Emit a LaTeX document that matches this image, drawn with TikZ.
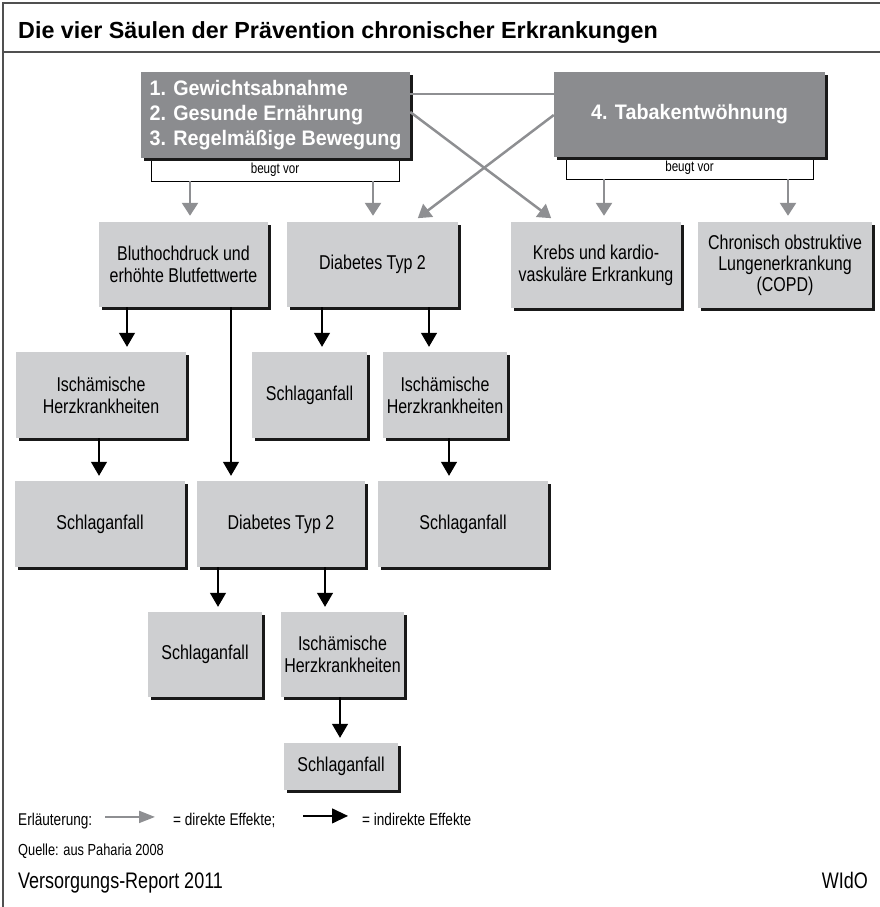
\documentclass[tikz,border=0pt]{standalone}
\usepackage{fontspec}
\setmainfont{Liberation Sans}[FakeStretch=0.8]
\newfontfamily\boxfont{Liberation Sans}[FakeStretch=0.94]
\newfontfamily\titlefont{Liberation Sans}
\usetikzlibrary{arrows.meta,shadows}
\definecolor{hell}{HTML}{CECFD1}
\definecolor{dunkel}{HTML}{8B8C8F}
\definecolor{pfeilgrau}{HTML}{8E8F92}
\definecolor{rahmen}{HTML}{505050}

\begin{document}
\begin{tikzpicture}[x=1pt,y=-1pt,
		krank/.style={fill=hell,inner sep=2pt,align=center,font=\fontsize{20}{22}\selectfont,
			general shadow={fill=black!90,shadow xshift=2.5pt,shadow yshift=-2.5pt}},
		saeule/.style={fill=dunkel,text=white,inner sep=0pt,
			general shadow={fill=black!90,shadow xshift=2.5pt,shadow yshift=-2.5pt}},
		vorbox/.style={draw,line width=0.8pt,fill=white,inner sep=0pt,font=\fontsize{14.5}{16}\selectfont},
		txt/.style={inner sep=0pt,font=\fontsize{17}{19}\selectfont},
		direkt/.style={pfeilgrau,line width=2.5pt,shorten >=6pt,-{Triangle[length=13pt,width=16pt]}},
		indirekt/.style={black,line width=1.2pt,shorten >=5pt,-{Triangle[length=14pt,width=16pt]}}]
		\useasboundingbox (0,0) rectangle (880,907);
		\draw[rahmen,line width=1.6pt] (880,3) -- (3,3) -- (3,907);
		\draw[rahmen,line width=1.6pt] (3,52) -- (880,52);
		\node[anchor=base west,inner sep=0pt,font=\titlefont\bfseries\fontsize{23.3}{27}\selectfont] (titel) at (18,38) {Die vier Säulen der Prävention chronischer Erkrankungen};

		\node[vorbox,minimum width=248pt,minimum height=23pt] (bv1) at (275,169.5) {beugt vor};
		\node[vorbox,minimum width=247pt,minimum height=22pt] (bv2) at (689.5,168) {beugt vor};
		\node[saeule,align=left,minimum width=269pt,minimum height=86pt,font=\boxfont\bfseries\fontsize{21}{25}\selectfont] (gew) at (275.5,115) {1. Gewichtsabnahme\\2. Gesunde Ernährung\\3. Regelmäßige Bewegung};
		\node[saeule,minimum width=271pt,minimum height=85pt,font=\boxfont\bfseries\fontsize{21}{25}\selectfont] (tabak) at (689.5,114.5) {4. Tabakentwöhnung};

		\node[krank,minimum width=169pt,minimum height=85pt] (bhd) at (183.5,264.5) {Bluthochdruck und\\erhöhte Blutfettwerte};
		\node[krank,minimum width=171pt,minimum height=85pt] (dia1) at (372.5,264.5) {Diabetes Typ 2};
		\node[krank,minimum width=170pt,minimum height=86pt] (krebs) at (596,265) {Krebs und kardio-\\vaskuläre Erkrankung};
		\node[krank,minimum width=174pt,minimum height=86pt,font=\fontsize{20}{21}\selectfont] (copd) at (785,265) {Chronisch obstruktive\\Lungenerkrankung\\(COPD)};

		\node[krank,minimum width=170pt,minimum height=86pt] (isch1) at (101,395) {Ischämische\\Herzkrankheiten};
		\node[krank,minimum width=115pt,minimum height=86pt] (schlag1) at (309.5,395) {Schlaganfall};
		\node[krank,minimum width=124pt,minimum height=86pt] (isch2) at (445,395) {Ischämische\\Herzkrankheiten};

		\node[krank,minimum width=170pt,minimum height=86pt] (schlag2) at (100,524) {Schlaganfall};
		\node[krank,minimum width=168pt,minimum height=86pt] (dia2) at (281,524) {Diabetes Typ 2};
		\node[krank,minimum width=170pt,minimum height=86pt] (schlag3) at (463,524) {Schlaganfall};

		\node[krank,minimum width=114pt,minimum height=85pt] (schlag4) at (205,654.5) {Schlaganfall};
		\node[krank,minimum width=123pt,minimum height=85pt] (isch3) at (342.5,654.5) {Ischämische\\Herzkrankheiten};
		\node[krank,minimum width=114pt,minimum height=47pt] (schlag5) at (341,766.5) {Schlaganfall};

		\draw[pfeilgrau,line width=2.5pt] (gew.east |- 0,94) -- (tabak.west |- 0,94);
		\draw[direkt] (gew.east |- 0,112) -- (krebs.north -| 556,0);
		\draw[direkt] (tabak.west |- 0,115) -- (dia1.north -| 413,0);
		\draw[direkt] (bv1.south -| 190,0) -- (bhd.north -| 190,0);
		\draw[direkt] (bv1.south -| 373,0) -- (dia1.north -| 373,0);
		\draw[direkt] (bv2.south -| 604,0) -- (krebs.north -| 604,0);
		\draw[direkt] (bv2.south -| 788,0) -- (copd.north -| 788,0);

		\draw[indirekt] (bhd.south -| 127,0) -- (isch1.north -| 127,0);
		\draw[indirekt] (bhd.south -| 231,0) -- (dia2.north -| 231,0);
		\draw[indirekt] (dia1.south -| 322,0) -- (schlag1.north -| 322,0);
		\draw[indirekt] (dia1.south -| 429,0) -- (isch2.north -| 429,0);
		\draw[indirekt] (isch1.south -| 99,0) -- (schlag2.north -| 99,0);
		\draw[indirekt] (isch2.south -| 449,0) -- (schlag3.north -| 449,0);
		\draw[indirekt] (dia2.south -| 218,0) -- (schlag4.north -| 218,0);
		\draw[indirekt] (dia2.south -| 325,0) -- (isch3.north -| 325,0);
		\draw[indirekt] (isch3.south -| 340,0) -- (schlag5.north -| 340,0);

		\node[txt,anchor=base west] (erl) at (18,825) {Erläuterung:};
		\node[txt,anchor=base west] (ldir) at (173,825) {= direkte Effekte;};
		\node[txt,anchor=base west] (lind) at (362,825) {= indirekte Effekte};
		\draw[pfeilgrau,line width=2pt,-{Triangle[length=16pt,width=12pt]}] ([shift={(-68pt,3pt)}]ldir.west) -- ([shift={(-18pt,3pt)}]ldir.west);
		\draw[black,line width=1.2pt,-{Triangle[length=16pt,width=15pt]}] ([shift={(-59pt,3pt)}]lind.west) -- ([shift={(-14pt,3pt)}]lind.west);
		\node[txt,anchor=base west,font=\fontsize{16}{18}\selectfont] (quelle) at (18,855) {Quelle: aus Paharia 2008};
		\node[txt,anchor=base west,font=\fontsize{22.5}{25}\selectfont] (report) at (18,888) {Versorgungs-Report 2011};
		\node[txt,anchor=base east,font=\fontsize{22.5}{25}\selectfont] (wido) at (868,888) {WIdO};
	\end{tikzpicture}
\end{document}
